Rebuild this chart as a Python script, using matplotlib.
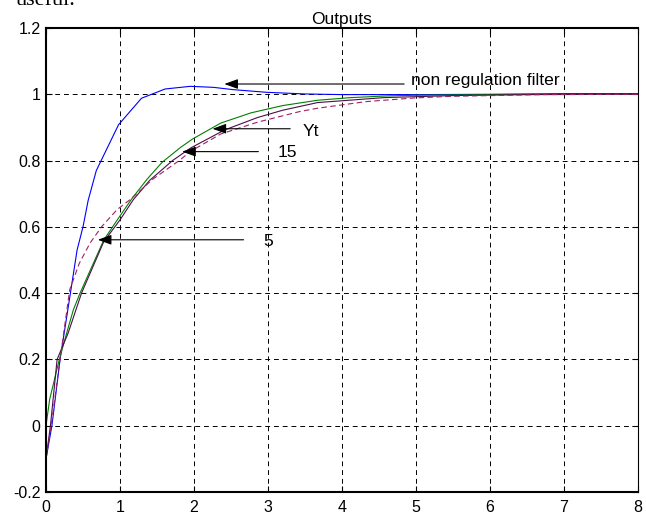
import matplotlib
matplotlib.use("Agg")
import matplotlib.pyplot as plt

plt.rcParams['font.family'] = ['Liberation Sans', 'DejaVu Sans']

# non regulation filter (blue)
t_blue = [0, 0.08, 0.19, 0.33, 0.42, 0.50, 0.57, 0.68, 0.98, 1.29, 1.61, 1.95,
          2.26, 2.53, 2.98, 3.5, 4.0, 5.0, 6.0, 7.0, 8.0]
y_blue = [-0.1, 0.0, 0.2, 0.4, 0.53, 0.60, 0.68, 0.77, 0.908, 0.988, 1.016, 1.024,
          1.021, 1.014, 1.006, 1.001, 0.999, 0.999, 1.0, 1.002, 1.002]

# Yt (green)
t_green = [0, 0.05, 0.18, 0.28, 0.37, 0.46, 0.62, 0.78, 0.96, 1.16, 1.37, 1.57,
           1.82, 1.98, 2.36, 2.77, 3.2, 3.67, 4.12, 4.6, 5.0, 6.0, 7.0, 8.0]
y_green = [0, 0.08, 0.2, 0.28, 0.35, 0.40, 0.48, 0.56, 0.62, 0.685, 0.745, 0.795,
           0.84, 0.865, 0.913, 0.944, 0.966, 0.982, 0.99, 0.995, 0.997, 0.999, 1.0, 1.0]

# 15 (dark purple, solid)
t_15 = [0, 0.06, 0.15, 0.30, 0.48, 0.78, 1.0, 1.18, 1.40, 1.71, 1.955, 2.41,
        2.86, 3.2, 3.67, 4.57, 5.5, 6.5, 8.0]
y_15 = [-0.1, 0.0, 0.2, 0.28, 0.4, 0.555, 0.621, 0.682, 0.74, 0.8, 0.838, 0.892,
        0.93, 0.952, 0.975, 0.99, 0.996, 0.999, 1.0]

# 5 (dashed)
t_5 = [0, 0.07, 0.19, 0.32, 0.45, 0.595, 0.75, 0.96, 1.135, 1.45, 1.80, 1.955,
       2.36, 2.86, 3.43, 3.67, 4.33, 4.98, 5.5, 6.0, 6.7, 8.0]
y_5 = [-0.1, 0.0, 0.2, 0.41, 0.49, 0.551, 0.60, 0.652, 0.682, 0.745, 0.80, 0.828,
       0.88, 0.916, 0.948, 0.958, 0.978, 0.989, 0.994, 0.996, 0.999, 1.0]

labels = ['non regulation filter', 'Yt', '15', '5']
label_xy = [(4.93, 1.029), (3.47, 0.875), (3.13, 0.812), (2.93, 0.541)]
arrow_tip = [(2.41, 1.031), (2.25, 0.896), (1.84, 0.827), (0.70, 0.561)]
arrow_tail = [(4.84, 1.031), (3.30, 0.896), (2.87, 0.827), (2.67, 0.561)]

xticks = [0, 1, 2, 3, 4, 5, 6, 7, 8]
yticks = [-0.2, 0, 0.2, 0.4, 0.6, 0.8, 1, 1.2]
ytick_labels = ['-0.2', '0', '0.2', '0.4', '0.6', '0.8', '1', '1.2']

fig = plt.figure(figsize=(6.46, 5.14), dpi=100)
ax = fig.add_axes([46 / 646, 1 - 492 / 514, (638 - 46) / 646, (492 - 28) / 514])

ax.plot(t_blue, y_blue, color='#0000ff', lw=0.8)
ax.plot(t_green, y_green, color='#008000', lw=0.8)
ax.plot(t_15, y_15, color='#4a0f4a', lw=0.8)
ax.plot(t_5, y_5, color='#a02060', lw=0.8, linestyle=(0, (5, 3)))

for lab, pos, tip, tail in zip(labels, label_xy, arrow_tip, arrow_tail):
    ax.annotate('', xy=tip, xytext=tail,
                arrowprops=dict(arrowstyle='-|>,head_length=0.55,head_width=0.2',
                                color='black', lw=0.8, mutation_scale=15,
                                shrinkA=0, shrinkB=0))
    ax.text(pos[0], pos[1], lab, fontsize=12.6, va='baseline', ha='left')

ax.set_xlim(0, 8)
ax.set_ylim(-0.2, 1.2)
ax.set_xticks(xticks)
ax.set_yticks(yticks)
ax.set_yticklabels(ytick_labels)
ax.tick_params(direction='in', top=True, right=True, length=4, labelsize=11.5)
ax.tick_params(axis='x', pad=6)
ax.tick_params(axis='y', pad=4)
ax.grid(True, color='black', linestyle=(0, (5, 4)), lw=0.7)
for s in ['left', 'bottom', 'top']:
    ax.spines[s].set_linewidth(1.5)
ax.spines['right'].set_linewidth(0.8)
ax.set_title('Outputs', fontsize=12.5, pad=3)

fig.text(0.025, 0.990, 'useful.', fontsize=16, family='Liberation Serif', va='baseline')

fig.savefig('out.png', dpi=100)
